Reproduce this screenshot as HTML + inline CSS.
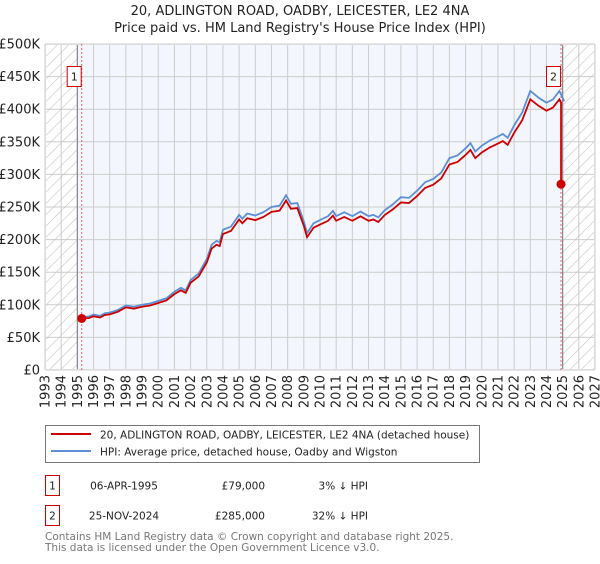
<!DOCTYPE html>
<html><head><meta charset="utf-8"><style>
body{margin:0;background:#fff;font-family:"DejaVu Sans","Liberation Sans",sans-serif;}
svg text{font-family:"DejaVu Sans","Liberation Sans",sans-serif;}
</style></head><body>
<svg id="chart" width="600" height="560" viewBox="0 0 600 560" xmlns="http://www.w3.org/2000/svg">
<defs>
<pattern id="hatch" width="8" height="8" patternUnits="userSpaceOnUse" patternTransform="rotate(45)">
<line x1="0" y1="0" x2="0" y2="8" stroke="#c4c4c4" stroke-width="1.2"/>
</pattern>
</defs>
<text x="300" y="15" text-anchor="middle" font-size="13" fill="#222">20, ADLINGTON ROAD, OADBY, LEICESTER, LE2 4NA</text>
<text x="300" y="32" text-anchor="middle" font-size="13" fill="#222">Price paid vs. HM Land Registry's House Price Index (HPI)</text>
<g id="plot"></g>
<g id="legend">
<rect x="45.5" y="425.5" width="434" height="37" fill="#fff" stroke="#777"/>
<line x1="51" y1="434" x2="91" y2="434" stroke="#cc0000" stroke-width="2"/>
<text x="100" y="438.5" font-size="10.5" fill="#222">20, ADLINGTON ROAD, OADBY, LEICESTER, LE2 4NA (detached house)</text>
<line x1="51" y1="451" x2="91" y2="451" stroke="#5b8fd6" stroke-width="2"/>
<text x="100" y="455.5" font-size="10.5" fill="#222">HPI: Average price, detached house, Oadby and Wigston</text>
</g>
<g font-size="10.5" fill="#222">
<rect x="45.5" y="475.5" width="14" height="20" fill="#fff" stroke="#cc0000"/>
<text x="52.5" y="489.5" text-anchor="middle">1</text>
<text x="124" y="489.5" text-anchor="middle">06-APR-1995</text>
<text x="265" y="489.5" text-anchor="end">£79,000</text>
<text x="368" y="489.5" text-anchor="end">3% ↓ HPI</text>
<rect x="45.5" y="505.5" width="14" height="20" fill="#fff" stroke="#cc0000"/>
<text x="52.5" y="519.5" text-anchor="middle">2</text>
<text x="124" y="519.5" text-anchor="middle">25-NOV-2024</text>
<text x="265" y="519.5" text-anchor="end">£285,000</text>
<text x="368" y="519.5" text-anchor="end">32% ↓ HPI</text>
</g>
<text x="45" y="540" font-size="10.5" fill="#777">Contains HM Land Registry data © Crown copyright and database right 2025.</text>
<text x="45" y="551" font-size="10.5" fill="#777">This data is licensed under the Open Government Licence v3.0.</text>
</svg>
<script>
const yTicks=[0,50000,100000,150000,200000,250000,300000,350000,400000,450000,500000];
const yTickLabels=["£0","£50K","£100K","£150K","£200K","£250K","£300K","£350K","£400K","£450K","£500K"];
const xYears=[1993,1994,1995,1996,1997,1998,1999,2000,2001,2002,2003,2004,2005,2006,2007,2008,2009,2010,2011,2012,2013,2014,2015,2016,2017,2018,2019,2020,2021,2022,2023,2024,2025,2026,2027];
const hpiDates=[1995.0,1995.3,1995.7,1996.0,1996.4,1996.7,1997.0,1997.5,1998.0,1998.5,1999.0,1999.5,2000.0,2000.5,2001.0,2001.4,2001.7,2002.0,2002.5,2003.0,2003.3,2003.6,2003.8,2004.0,2004.5,2005.0,2005.2,2005.5,2006.0,2006.5,2007.0,2007.5,2007.9,2008.2,2008.6,2009.0,2009.2,2009.6,2010.0,2010.5,2010.8,2011.0,2011.5,2012.0,2012.5,2013.0,2013.3,2013.6,2014.0,2014.5,2015.0,2015.5,2016.0,2016.5,2017.0,2017.5,2018.0,2018.5,2019.0,2019.3,2019.6,2020.0,2020.5,2021.0,2021.3,2021.6,2022.0,2022.5,2023.0,2023.5,2024.0,2024.4,2024.8,2025.1];
const hpiValues=[81000,81500,82000,85000,83000,87000,88000,92000,99000,97000,100000,102000,106000,110000,120000,126000,122000,138000,148000,170000,192000,198000,196000,215000,220000,238000,232000,240000,237000,242000,250000,252000,268000,255000,256000,228000,210000,225000,230000,236000,244000,236000,242000,236000,243000,236000,238000,234000,245000,254000,265000,264000,275000,288000,293000,303000,325000,329000,340000,348000,335000,344000,352000,358000,362000,356000,375000,395000,428000,418000,410000,415000,428000,412000];
const saleDates=[1995.27,2024.9];
const salePrices=[79000,285000];
const saleLabels=["1","2"];

const NS="http://www.w3.org/2000/svg";
const X0=45,X1=595,Y0=370,Y1=44;
function xs(t){return X0+(t-1993)/(2027-1993)*(X1-X0);}
function ys(v){return Y0-v/500000*(Y0-Y1);}
function mk(tag,attrs,parent){const e=document.createElementNS(NS,tag);for(const k in attrs)e.setAttribute(k,attrs[k]);parent.appendChild(e);return e;}
const g=document.getElementById('plot');
const bg=mk('rect',{x:X0,y:Y1,width:X1-X0,height:Y0-Y1,fill:'#f3f6fd'},g);


const w1=mk('rect',{x:X0,y:Y1,width:xs(1995)-X0,height:Y0-Y1,fill:'#fff'},g);


const w2=mk('rect',{x:xs(2025),y:Y1,width:X1-xs(2025),height:Y0-Y1,fill:'#fff'},g);


yTicks.forEach((v,i)=>{
  const l=mk('line',{x1:X0,x2:X1,y1:ys(v),y2:ys(v),stroke:'#ccc','stroke-width':1},g);
  
  
  const t=mk('text',{x:40,y:ys(v)+4.5,'text-anchor':'end','font-size':13,fill:'#222'},g);
  t.textContent=yTickLabels[i];
  
  
});
xYears.forEach(yr=>{
  const l=mk('line',{x1:xs(yr),x2:xs(yr),y1:Y1,y2:Y0,stroke:'#ccc','stroke-width':1},g);
  
  
  const t=mk('text',{x:0,y:0,'text-anchor':'end','font-size':13,fill:'#222',transform:`translate(${xs(yr)+4.5},375) rotate(-90)`},g);
  t.textContent=String(yr);
  
  
});
const h1=mk('rect',{x:X0,y:Y1,width:xs(1995)-X0,height:Y0-Y1,fill:'url(#hatch)'},g);


const h2=mk('rect',{x:xs(2025),y:Y1,width:X1-xs(2025),height:Y0-Y1,fill:'url(#hatch)'},g);


const sep1=mk('line',{x1:xs(1995),x2:xs(1995),y1:Y1,y2:Y0,stroke:'#888','stroke-width':1.2},g);


const sep2=mk('line',{x1:xs(2025),x2:xs(2025),y1:Y1,y2:Y0,stroke:'#888','stroke-width':1.2},g);


mk('rect',{x:X0+0.5,y:Y1+0.5,width:X1-X0-1,height:Y0-Y1-1,fill:'none',stroke:'#ddd'},g);
function hpiAt(t){for(let i=1;i<hpiDates.length;i++){if(t<=hpiDates[i]){const f=(t-hpiDates[i-1])/(hpiDates[i]-hpiDates[i-1]);return hpiValues[i-1]+f*(hpiValues[i]-hpiValues[i-1]);}}return hpiValues[hpiValues.length-1];}
saleDates.forEach((d,i)=>{
  const l=mk('line',{x1:xs(d),x2:xs(d),y1:Y1,y2:Y0,stroke:'#e06666','stroke-width':1,'stroke-dasharray':'2,2'},g);
  
  
});
const hp=mk('polyline',{points:hpiDates.map((d,i)=>xs(d)+','+ys(hpiValues[i])).join(' '),fill:'none',stroke:'#5b8fd6','stroke-width':1.8},g);


const ratio=salePrices[0]/hpiAt(saleDates[0]);
const pts=[[saleDates[0],salePrices[0]]];
hpiDates.forEach((d,i)=>{if(d>saleDates[0]&&d<saleDates[1])pts.push([d,hpiValues[i]*ratio]);});
pts.push([saleDates[1],hpiAt(saleDates[1])*ratio]);
pts.push([saleDates[1],salePrices[1]]);
const pp=mk('polyline',{points:pts.map(p=>xs(p[0])+','+ys(p[1])).join(' '),fill:'none',stroke:'#cc0000','stroke-width':1.8},g);


saleDates.forEach((d,i)=>{
  const c=mk('circle',{cx:xs(d),cy:ys(salePrices[i]),r:4.5,fill:'#cc0000'},g);
  
  
  const bx=xs(d)-14;
  const r=mk('rect',{x:bx-0.5,y:66.5,width:14,height:20,fill:'#fff',stroke:'#cc0000'},g);
  
  
  const t=mk('text',{x:bx+6.5,y:80.5,'text-anchor':'middle','font-size':11,fill:'#222'},g);
  t.textContent=saleLabels[i];
  
  
});
</script>
</body></html>
